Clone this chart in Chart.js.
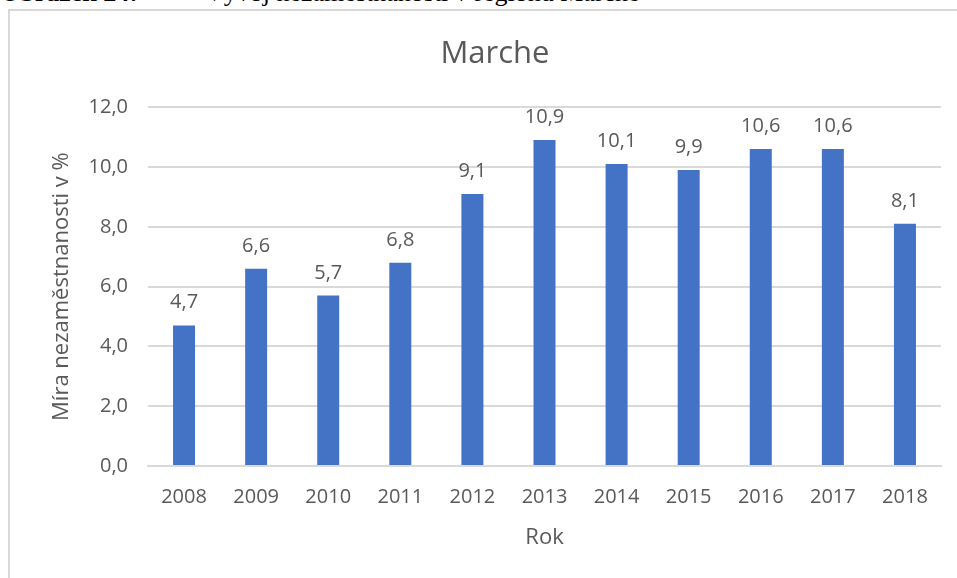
<!DOCTYPE html>
<html>
<head>
<meta charset="utf-8">
<script src="https://cdn.jsdelivr.net/npm/chart.js@4"></script>
<style>
  html, body { margin: 0; padding: 0; background: #fff; }
  #wrap { position: relative; width: 957px; height: 578px; overflow: hidden; }
  #frame { position: absolute; left: 8px; top: 9px; width: 1000px; height: 600px;
           border: 2px solid #d9d9d9; box-sizing: border-box; }
  .cap { position: absolute; top: -20px; font: 26px/26px "Liberation Serif", serif; color: #000; white-space: nowrap; }
  #box { position: absolute; left: 0; top: 0; width: 957px; height: 578px; }
</style>
</head>
<body>
<div id="wrap">
  <div class="cap" style="left:0"><b>Obrázek 24:</b></div>
  <div class="cap" style="left:205px">Vývoj nezaměstnanosti v regionu Marche</div>
  <div id="frame"></div>
  <div id="box"><canvas id="c"></canvas></div>
</div>
<script>
const years = ["2008", "2009", "2010", "2011", "2012", "2013", "2014", "2015", "2016", "2017", "2018"]
const rates = [4.7, 6.6, 5.7, 6.8, 9.1, 10.9, 10.1, 9.9, 10.6, 10.6, 8.1]
const yTicks = [0, 2, 4, 6, 8, 10, 12]

const grey = "#595959"
const fam = "'Open Sans', 'Noto Sans', sans-serif"
const fmt = v => v.toFixed(1).replace(".", ",")

// value above each bar, Czech decimal comma
const valueLabels = {
  id: "valueLabels",
  afterDatasetsDraw(chart) {
    const ctx = chart.ctx
    ctx.save()
    ctx.font = "20px " + fam
    ctx.fillStyle = grey
    ctx.textAlign = "center"
    ctx.textBaseline = "alphabetic"
    chart.getDatasetMeta(0).data.forEach((bar, i) => {
      ctx.fillText(fmt(rates[i]), bar.x, bar.y - 17)
    })
    ctx.restore()
  }
}

new Chart(document.getElementById("c"), {
  type: "bar",
  data: {
    labels: years,
    datasets: [{
      data: rates,
      backgroundColor: "#4472c4",
      barPercentage: 0.305,
      categoryPercentage: 1
    }]
  },
  options: {
    responsive: true,
    maintainAspectRatio: false,
    animation: false,
    layout: { padding: { left: 49, right: 16, top: 0, bottom: 27 } },
    plugins: {
      legend: { display: false },
      tooltip: { enabled: false },
      title: {
        display: true,
        text: "Marche",
        color: grey,
        font: { family: fam, size: 31, weight: "normal" },
        padding: { top: 36, bottom: 34 }
      }
    },
    scales: {
      x: {
        grid: { display: false, drawTicks: false },
        border: { color: "#d9d9d9", width: 2 },
        ticks: { color: grey, font: { family: fam, size: 20 }, padding: 19 },
        title: { display: true, text: "Rok", color: grey, font: { family: fam, size: 22 }, padding: 0 },
        afterFit: s => { s.height = 85 }
      },
      y: {
        min: 0,
        max: 12,
        afterBuildTicks: s => { s.ticks = yTicks.map(v => ({ value: v })) },
        grid: { color: "#d9d9d9", lineWidth: 2, drawTicks: false },
        border: { display: false },
        ticks: { color: grey, font: { family: fam, size: 20 }, padding: 20, callback: v => fmt(v) },
        title: { display: true, text: "Míra nezaměstnanosti v %", color: grey, font: { family: fam, size: 22 }, padding: 0 },
        afterFit: s => { s.width = 99 }
      }
    }
  },
  plugins: [valueLabels]
})
</script>
</body>
</html>
